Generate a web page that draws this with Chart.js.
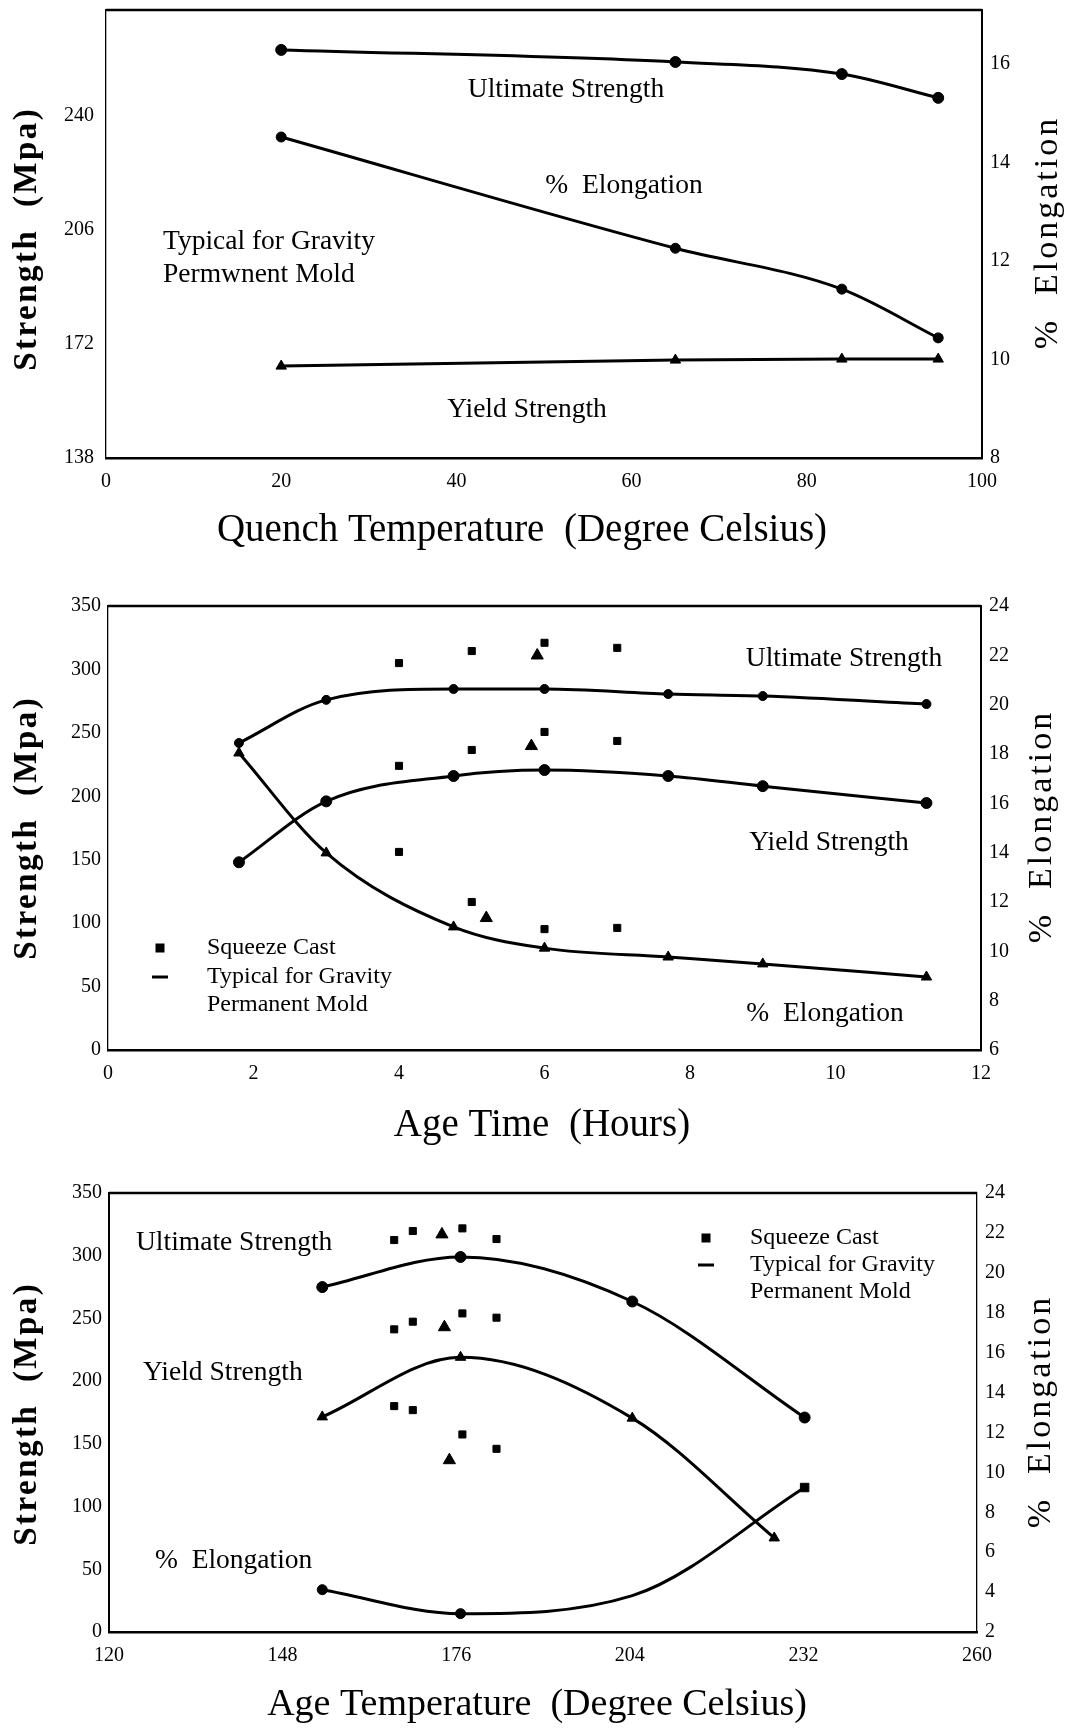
<!DOCTYPE html>
<html><head><meta charset="utf-8">
<script src="https://cdn.jsdelivr.net/npm/chart.js@4.4.1/dist/chart.umd.min.js"></script>
<style>
html,body{margin:0;padding:0;background:#fff;}
#wrap{position:relative;width:1070px;height:1732px;overflow:hidden;}
canvas{position:absolute;left:0;}
</style></head><body>
<div id="wrap">
<canvas id="c1" width="1070" height="580" style="top:0px"></canvas>
<canvas id="c2" width="1070" height="580" style="top:580px"></canvas>
<canvas id="c3" width="1070" height="572" style="top:1160px"></canvas>
</div>
<script>
// ---------- Chart 1: Quench temperature ----------
const quenchTemp = [20, 65, 84, 95];
const quenchUltimate = [259.7, 256.1, 252.5, 245.4];
const quenchYield = [165.4, 167.2, 167.5, 167.5];
const quenchElongation = [14.52, 12.26, 11.43, 10.44];
const quenchXTicks = [0, 20, 40, 60, 80, 100];
const quenchStrengthTicks = [138, 172, 206, 240];
const quenchElongTicks = [8, 10, 12, 14, 16];

// ---------- Chart 2: Age time ----------
const ageTime = [1.8, 3, 4.75, 6, 7.7, 9, 11.25];
const ageUltimate = [242, 276, 284.6, 284.6, 280.6, 279, 272.7];
const ageYield = [148, 196, 216, 220.7, 216, 208, 194.7];
const ageElongation = [18.04, 13.99, 10.99, 10.13, 9.77, 9.49, 8.96];
const ageSqTime = [4, 5, 6, 7];
const ageSqUltimate = [305, 314.5, 321, 317];
const ageSqYield = [224, 236.5, 250.7, 243.6];
const ageSqElongation = [14.03, 12.0, 10.9, 10.95];
const ageTriStrengthTime = [5.9, 5.82];
const ageTriStrength = [311, 239.6];
const ageTriElongTime = [5.2];
const ageTriElong = [11.35];
const ageXTicks = [0, 2, 4, 6, 8, 10, 12];
const ageStrengthTicks = [0, 50, 100, 150, 200, 250, 300, 350];
const ageElongTicks = [6, 8, 10, 12, 14, 16, 18, 20, 22, 24];

// ---------- Chart 3: Age temperature ----------
const tempAge = [154.4, 176.7, 204.4, 232.2];
const tempUltimate = [275, 299, 263.5, 171];
const tempYieldX = [154.4, 176.7, 204.4, 227.3];
const tempYield = [171.5, 219, 170.5, 75];
const tempElongation = [4.12, 2.92, 3.82, 9.24];
const tempSqX = [166, 169, 177, 182.5];
const tempSqUltimate = [312.5, 319.7, 321.8, 313.3];
const tempSqYield = [241.3, 247.4, 254, 250.6];
const tempSqElongation = [13.32, 13.12, 11.9, 11.18];
const tempTriX = [173.7, 174.1];
const tempTriStrength = [317, 243];
const tempTriElongX = [174.9];
const tempTriElong = [10.61];
const tempXTicks = [120, 148, 176, 204, 232, 260];
const tempStrengthTicks = [0, 50, 100, 150, 200, 250, 300, 350];
const tempElongTicks = [2, 4, 6, 8, 10, 12, 14, 16, 18, 20, 22, 24];

const SERIF = "'Liberation Serif', 'Times New Roman', serif";
Chart.defaults.font.family = SERIF;
Chart.defaults.color = '#000';

function xy(xs, ys) { return xs.map((x, i) => ({ x: x, y: ys[i] })); }

function lineDs(data, axis, style, radius, extra) {
  return Object.assign({
    data: data, yAxisID: axis, showLine: true,
    borderColor: '#000', backgroundColor: '#000', borderWidth: 3,
    cubicInterpolationMode: 'monotone', borderJoinStyle: 'round', borderCapStyle: 'round',
    pointStyle: style, pointRadius: radius, pointBorderWidth: 1, pointHoverRadius: radius
  }, extra || {});
}
function dotDs(data, axis, style, radius) {
  return {
    data: data, yAxisID: axis, showLine: false,
    borderColor: '#000', backgroundColor: '#000',
    pointStyle: style, pointRadius: radius, pointBorderWidth: 1, pointHoverRadius: radius
  };
}

function vText(ctx, text, x, y, font, spacing) {
  ctx.save();
  ctx.translate(x, y);
  ctx.rotate(-Math.PI / 2);
  ctx.font = font;
  if ('letterSpacing' in ctx) ctx.letterSpacing = spacing + 'px';
  ctx.textAlign = 'center';
  ctx.textBaseline = 'middle';
  ctx.fillStyle = '#000';
  ctx.fillText(text, spacing / 2, 0);
  ctx.restore();
}

function noPad(s) { s.paddingTop = 0; s.paddingBottom = 0; s.paddingLeft = 0; s.paddingRight = 0; }

function build(id, o) {
  const deco = {
    id: 'deco_' + id,
    afterDraw(chart) {
      const ctx = chart.ctx, a = chart.chartArea;
      ctx.save();
      ctx.strokeStyle = '#000';
      ctx.lineWidth = 2.5;
      ctx.beginPath(); ctx.moveTo(a.left, a.top); ctx.lineTo(a.right, a.top); ctx.stroke();
      ctx.fillStyle = '#000';
      ctx.textBaseline = 'middle';
      for (const t of o.notes) {
        ctx.font = t.font || ("27.5px " + SERIF);
        ctx.textAlign = t.align || 'center';
        ctx.fillText(t.text, t.x, t.y);
      }
      if (o.legend) {
        const L = o.legend;
        ctx.fillRect(L.x - 4.5, L.y1 - 4.5, 9, 9);
        ctx.lineWidth = 3;
        ctx.beginPath(); ctx.moveTo(L.x - 8, L.y2); ctx.lineTo(L.x + 8, L.y2); ctx.stroke();
        ctx.font = "24px " + SERIF;
        ctx.textAlign = 'left';
        ctx.fillText('Squeeze Cast', L.tx, L.y1);
        ctx.fillText('Typical for Gravity', L.tx, L.y2);
        ctx.fillText('Permanent Mold', L.tx, L.y3);
      }
      ctx.font = o.xTitleFont || ("39px " + SERIF);
      ctx.textAlign = 'center';
      ctx.fillText(o.xTitle, o.xTitlePos[0], o.xTitlePos[1]);
      vText(ctx, 'Strength  (Mpa)', o.leftTitlePos[0], o.leftTitlePos[1], "bold 33px " + SERIF, 2.5);
      vText(ctx, '%  Elongation', o.rightTitlePos[0], o.rightTitlePos[1], "34px " + SERIF, 3);
      ctx.restore();
    }
  };
  const tickFont = { family: SERIF, size: 20 };
  return new Chart(document.getElementById(id), {
    type: 'line',
    data: { datasets: o.datasets },
    options: {
      responsive: false, animation: false, devicePixelRatio: 1,
      layout: { padding: { top: o.area.top, left: 0, right: 0, bottom: 0 } },
      plugins: { legend: { display: false }, tooltip: { enabled: false }, title: { display: false } },
      scales: {
        x: {
          type: 'linear', min: o.xMin, max: o.xMax,
          afterBuildTicks: s => { s.ticks = o.xTicks.map(v => ({ value: v })); },
          afterFit: s => { s.height = o.H - o.area.bottom; noPad(s); },
          grid: { display: false, drawTicks: false },
          border: { display: true, color: '#000', width: 2.5 },
          ticks: { color: '#000', font: tickFont, padding: 12, maxRotation: 0, autoSkip: false }
        },
        y: {
          type: 'linear', position: 'left', min: o.yMin, max: o.yMax,
          afterBuildTicks: s => { s.ticks = o.yTicks.map(v => ({ value: v })); },
          afterFit: s => { s.width = o.area.left; noPad(s); },
          grid: { display: false, drawTicks: false },
          border: o.leftBorder,
          ticks: { color: '#000', font: tickFont, padding: o.leftPad, autoSkip: false }
        },
        y1: {
          type: 'linear', position: 'right', min: o.y1Min, max: o.y1Max,
          afterBuildTicks: s => { s.ticks = o.y1Ticks.map(v => ({ value: v })); },
          afterFit: s => { s.width = 1070 - o.area.right; noPad(s); },
          grid: { display: false, drawTicks: false },
          border: o.rightBorder,
          ticks: { color: '#000', font: tickFont, padding: 8, autoSkip: false }
        }
      }
    },
    plugins: [deco]
  });
}

// Chart 1
build('c1', {
  H: 580, area: { left: 106, right: 982, top: 10, bottom: 458 },
  xMin: 0, xMax: 100, xTicks: quenchXTicks,
  yMin: 138, yMax: 271.6, yTicks: quenchStrengthTicks,
  y1Min: 8, y1Max: 17.1, y1Ticks: quenchElongTicks,
  leftPad: 12,
  leftBorder: { display: true, color: '#000', width: 1.3, dash: [5, 4] },
  rightBorder: { display: true, color: '#000', width: 2 },
  datasets: [
    lineDs(xy(quenchTemp, quenchUltimate), 'y', 'circle', 5.5),
    lineDs(xy(quenchTemp, quenchElongation), 'y1', 'circle', 5),
    lineDs(xy(quenchTemp, quenchYield), 'y', 'triangle', 6)
  ],
  notes: [
    { text: 'Ultimate Strength', x: 566, y: 90 },
    { text: '%  Elongation', x: 624, y: 186 },
    { text: 'Typical for Gravity', x: 163, y: 242, align: 'left' },
    { text: 'Permwnent Mold', x: 163, y: 275, align: 'left' },
    { text: 'Yield Strength', x: 527, y: 410 }
  ],
  xTitle: 'Quench Temperature  (Degree Celsius)', xTitlePos: [522, 531],
  leftTitlePos: [27, 240], rightTitlePos: [1048, 234]
});

// Chart 2
build('c2', {
  H: 580, area: { left: 108, right: 981, top: 26, bottom: 470 },
  xMin: 0, xMax: 12, xTicks: ageXTicks,
  yMin: 0, yMax: 350, yTicks: ageStrengthTicks,
  y1Min: 6, y1Max: 24, y1Ticks: ageElongTicks,
  leftPad: 7,
  leftBorder: { display: true, color: '#000', width: 1.3, dash: [5, 4] },
  rightBorder: { display: true, color: '#000', width: 2 },
  datasets: [
    lineDs(xy(ageTime, ageUltimate), 'y', 'circle', 4.5),
    lineDs(xy(ageTime, ageYield), 'y', 'circle', 5.5),
    lineDs(xy(ageTime, ageElongation), 'y1', 'triangle', 6),
    dotDs(xy(ageSqTime, ageSqUltimate), 'y', 'rect', 5),
    dotDs(xy(ageSqTime, ageSqYield), 'y', 'rect', 5),
    dotDs(xy(ageSqTime, ageSqElongation), 'y1', 'rect', 5),
    dotDs(xy(ageTriStrengthTime, ageTriStrength), 'y', 'triangle', 7),
    dotDs(xy(ageTriElongTime, ageTriElong), 'y1', 'triangle', 7)
  ],
  notes: [
    { text: 'Ultimate Strength', x: 844, y: 79 },
    { text: 'Yield Strength', x: 829, y: 263 },
    { text: '%  Elongation', x: 825, y: 434 }
  ],
  legend: { x: 160, y1: 368, y2: 397, y3: 425, tx: 207 },
  xTitle: 'Age Time  (Hours)', xTitlePos: [542, 546],
  leftTitlePos: [27, 249], rightTitlePos: [1042, 248]
});

// Chart 3
build('c3', {
  H: 572, area: { left: 109, right: 977, top: 33, bottom: 472 },
  xMin: 120, xMax: 260, xTicks: tempXTicks,
  yMin: 0, yMax: 350, yTicks: tempStrengthTicks,
  y1Min: 2, y1Max: 24, y1Ticks: tempElongTicks,
  leftPad: 7,
  leftBorder: { display: true, color: '#000', width: 2 },
  rightBorder: { display: true, color: '#000', width: 1.3, dash: [5, 4] },
  datasets: [
    lineDs(xy(tempAge, tempUltimate), 'y', 'circle', 5.5),
    lineDs(xy(tempYieldX, tempYield), 'y', 'triangle', 6),
    lineDs(xy(tempAge, tempElongation), 'y1', ['circle', 'circle', 'circle', 'rect'], [5, 5, 0, 6]),
    dotDs(xy(tempSqX, tempSqUltimate), 'y', 'rect', 5),
    dotDs(xy(tempSqX, tempSqYield), 'y', 'rect', 5),
    dotDs(xy(tempSqX, tempSqElongation), 'y1', 'rect', 5),
    dotDs(xy(tempTriX, tempTriStrength), 'y', 'triangle', 7),
    dotDs(xy(tempTriElongX, tempTriElong), 'y1', 'triangle', 7)
  ],
  notes: [
    { text: 'Ultimate Strength', x: 136, y: 83, align: 'left' },
    { text: 'Yield Strength', x: 143, y: 213, align: 'left' },
    { text: '%  Elongation', x: 155, y: 401, align: 'left' }
  ],
  legend: { x: 706, y1: 78, y2: 105, y3: 132, tx: 750 },
  xTitle: 'Age Temperature  (Degree Celsius)', xTitleFont: "38px " + SERIF, xTitlePos: [537, 545],
  leftTitlePos: [27, 255], rightTitlePos: [1041, 253]
});
</script>
</body></html>
